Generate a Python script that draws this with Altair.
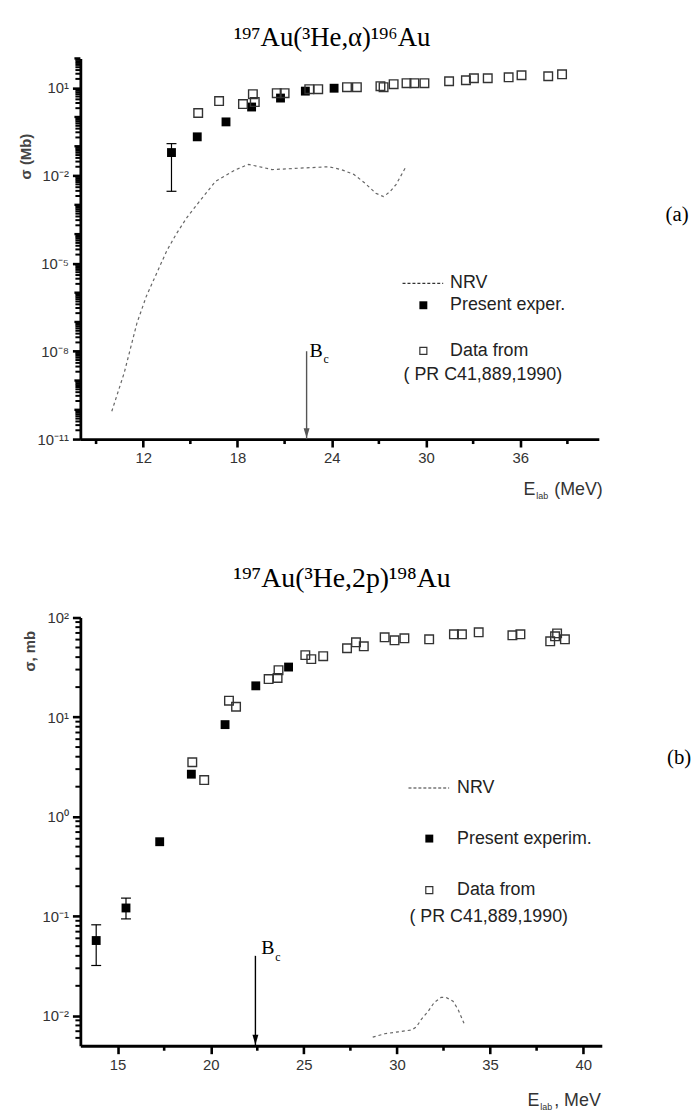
import altair as alt
import pandas as pd

# ---------------- panel (a): 197Au(3He,alpha)196Au ----------------
a_exp_e = [13.8, 15.44, 17.27, 18.9, 20.74, 22.32, 24.15]
a_exp_s = [0.061, 0.21, 0.68, 2.19, 4.43, 7.64, 9.6]
a_err_e = [13.8]
a_err_lo = [0.0029]
a_err_hi = [0.123]
a_lit_e = [15.5, 16.83, 18.35, 18.98, 19.1, 20.5, 21.0, 22.57, 23.14, 24.97, 25.6,
           27.1, 27.3, 27.94, 28.76, 29.26, 29.9, 31.47, 32.54, 33.05, 33.93, 35.26,
           36.08, 37.78, 38.66]
a_lit_s = [1.37, 3.5, 2.77, 6.0, 3.24, 6.5, 6.5, 8.9, 8.9, 10.4, 10.4,
           11.3, 10.4, 13.2, 14.3, 14.3, 14.3, 16.6, 18.0, 21.0, 21.0, 22.7,
           26.6, 24.6, 28.7]
a_nrv_e = [10.0, 10.8, 11.6, 12.2, 13.5, 14.1, 14.8, 15.6, 16.6, 17.9, 18.7, 19.4,
           20.2, 21.2, 22.0, 23.0, 23.8, 24.6, 25.4, 26.1, 26.8, 27.3, 27.7, 28.1, 28.7]
a_nrv_s = [8.9e-11, 1.9e-9, 9.1e-8, 7.6e-7, 2.7e-5, 1.0e-4, 3.8e-4, 1.35e-3, 6.3e-3,
           1.6e-2, 2.4e-2, 2.0e-2, 1.6e-2, 1.7e-2, 1.8e-2, 1.9e-2, 2.0e-2, 1.6e-2,
           1.1e-2, 5.6e-3, 2.5e-3, 1.9e-3, 2.8e-3, 5.0e-3, 1.9e-2]
a_bc_e = [22.4]
a_bc_top = [1e-8]
a_xticks = [12, 18, 24, 30, 36]
a_xminor = [9, 15, 21, 27, 33, 39]
a_yexps = [-11, -8, -5, -2, 1]

# ---------------- panel (b): 197Au(3He,2p)198Au ----------------
b_exp_e = [13.85, 15.45, 17.26, 18.96, 20.77, 22.42, 24.18]
b_exp_s = [0.057, 0.121, 0.56, 2.67, 8.4, 20.6, 31.8]
b_err_e = [13.85, 15.45]
b_err_lo = [0.032, 0.094]
b_err_hi = [0.082, 0.152]
b_lit_e = [19.01, 19.65, 20.98, 21.36, 23.11, 23.59, 23.64, 25.08, 25.4, 26.04, 27.32,
           27.8, 28.22, 29.34, 29.87, 30.4, 31.73, 33.06, 33.49, 34.39, 36.2, 36.63,
           38.23, 38.49, 38.6, 39.02]
b_lit_s = [3.52, 2.33, 14.6, 12.7, 24.1, 24.7, 29.6, 41.9, 38.2, 40.9, 49.1,
           56.4, 51.4, 63.2, 59.0, 61.8, 60.4, 67.8, 67.8, 71.0, 66.2, 67.8,
           57.7, 64.7, 69.3, 60.4]
b_nrv_e = [28.7, 29.34, 30.08, 30.78, 31.04, 31.31, 31.68, 32.0, 32.37, 32.64, 33.01, 33.28, 33.6]
b_nrv_s = [6.1e-3, 6.6e-3, 6.9e-3, 7.2e-3, 7.7e-3, 9.2e-3, 1.11e-2, 1.36e-2, 1.53e-2,
           1.53e-2, 1.40e-2, 1.16e-2, 8.4e-3]
b_bc_e = [22.4]
b_bc_top = [0.04]
b_xticks = [15, 20, 25, 30, 35, 40]
b_xminor = [17.5, 22.5, 27.5, 32.5, 37.5]
b_yexps = [-2, -1, 0, 1, 2]

SUP = str.maketrans('-0123456789', '⁻⁰¹²³⁴⁵⁶⁷⁸⁹')
SANS = 'Liberation Sans'
SERIF = 'Liberation Serif'
one = pd.DataFrame({'d': [0]})


def ylabel_expr(exps):
    s = ''
    for e in exps:
        s += f"abs(log(datum.value)/LN10 - ({e})) < 0.1 ? '10{str(e).translate(SUP)}' : "
    return s + "''"


AX = dict(grid=False, title=None, domainColor='black', domainWidth=2.8,
          tickColor='black', tickWidth=2.6, tickSize=8, labelFont=SANS,
          labelFontSize=15, labelColor='#333', labelOverlap=False, labelFlush=False,
          labelPadding=4)


def txt(s, x, y, size=15, font=SANS, align='left', baseline='alphabetic',
        color='black', angle=0, weight='normal'):
    return alt.Chart(one).mark_text(
        text=s, font=font, fontSize=size, align=align, baseline=baseline,
        color=color, angle=angle, fontWeight=weight
    ).encode(x=alt.value(x), y=alt.value(y))


def panel(W, H, xdom, ydom, xticks, xminor, yexps, ymid, yminor,
          exp_e, exp_s, err_e, err_lo, err_hi, lit_e, lit_s, nrv_e, nrv_s,
          bc_e, bc_top, bc_color, extra):
    xs = alt.Scale(domain=xdom, nice=False, zero=False)
    ys = alt.Scale(type='log', domain=ydom, nice=False)
    xax = alt.Axis(values=xticks, format='d', **AX)
    yax = alt.Axis(values=[10.0 ** e for e in yexps], labelExpr=ylabel_expr(yexps), **AX)

    def X(f):
        return alt.X(f, type='quantitative', scale=xs, axis=xax)

    def Y(f):
        return alt.Y(f, type='quantitative', scale=ys, axis=yax)

    exp_df = pd.DataFrame({'e': exp_e, 's': exp_s})
    lit_df = pd.DataFrame({'e': lit_e, 's': lit_s})
    nrv_df = pd.DataFrame({'e': nrv_e, 's': nrv_s})
    err_df = pd.DataFrame({'e': err_e, 'lo': err_lo, 'hi': err_hi})
    bc_df = pd.DataFrame({'e': bc_e, 's': bc_top, 'bot': [ydom[0]] * len(bc_e)})

    layers = [
        alt.Chart(exp_df).mark_point(shape='square', filled=True, size=80,
                                     color='black', opacity=1).encode(x=X('e'), y=Y('s')),
        alt.Chart(pd.DataFrame({'s': ymid})).mark_rule(color='black', strokeWidth=2.4).encode(
            y=Y('s'), x=alt.value(0), x2=alt.value(-6)),
        alt.Chart(pd.DataFrame({'s': yminor})).mark_rule(color='black', strokeWidth=2).encode(
            y=Y('s'), x=alt.value(0), x2=alt.value(-5)),
        alt.Chart(pd.DataFrame({'e': xminor})).mark_rule(color='black', strokeWidth=2.6).encode(
            x=X('e'), y=alt.value(H), y2=alt.value(H + 5)),
        alt.Chart(nrv_df).mark_line(color='#666', strokeWidth=1.2, strokeDash=[3, 3]).encode(
            x=X('e'), y=Y('s')),
        alt.Chart(err_df).mark_rule(color='black', strokeWidth=1.2).encode(
            x=X('e'), y=Y('lo'), y2=alt.Y2('hi')),
        alt.Chart(err_df).mark_tick(orient='horizontal', size=10, thickness=1.2,
                                    color='black', opacity=1).encode(x=X('e'), y=Y('lo')),
        alt.Chart(err_df).mark_tick(orient='horizontal', size=10, thickness=1.2,
                                    color='black', opacity=1).encode(x=X('e'), y=Y('hi')),
        alt.Chart(lit_df).mark_point(shape='square', filled=False, size=75, strokeWidth=1.4,
                                     color='#333', opacity=1).encode(x=X('e'), y=Y('s')),
        alt.Chart(bc_df).mark_rule(color=bc_color, strokeWidth=1.4).encode(
            x=X('e'), y=Y('s'), y2=alt.Y2('bot')),
        alt.Chart(bc_df).mark_point(shape='M-1.2,-4L1.2,-4L0,0Z', filled=True, size=25,
                                    color=bc_color, opacity=1).encode(
            x=X('e'), y=alt.value(H - 1)),
    ]
    for spec in extra:
        kind = spec[0]
        if kind == 'bc':
            _, s, dx, y, size = spec
            layers.append(alt.Chart(bc_df).mark_text(
                text=s, dx=dx, font=SERIF, fontSize=size, align='left', color='black'
            ).encode(x=X('e'), y=alt.value(y)))
        else:
            layers.append(spec[1])
    return alt.layer(*layers).properties(width=W, height=H)


# -------- panel (a) --------
HA, WA = 384, 523
a_extra = [
    ('bc', 'B', 3, 295, 20),
    ('bc', 'c', 17, 303, 12),
    ('t', txt('¹⁹⁷Au(³He,α)¹⁹⁶Au', 254, -13, size=27, font=SERIF, align='center')),
    ('t', txt('σ (Mb)', -55, 99, size=15, align='center', baseline='middle',
              color='#444', angle=270, weight='bold')),
    ('t', txt('E', 447, 440, size=18, color='#333')),
    ('t', txt('lab', 460, 444, size=9, color='#333')),
    ('t', txt('(MeV)', 478, 440, size=18, color='#333')),
    ('t', alt.Chart(one).mark_rule(color='#333', strokeWidth=1.2, strokeDash=[3, 2]).encode(
        x=alt.value(325), x2=alt.value(366), y=alt.value(227))),
    ('t', txt('NRV', 373, 227, size=18, baseline='middle', color='#222')),
    ('t', alt.Chart(one).mark_point(shape='square', filled=True, size=64, color='black',
                                    opacity=1).encode(x=alt.value(346), y=alt.value(249))),
    ('t', txt('Present exper.', 373, 249, size=18, baseline='middle', color='#222')),
    ('t', alt.Chart(one).mark_point(shape='square', filled=False, size=50, strokeWidth=1.2,
                                    color='#333', opacity=1).encode(x=alt.value(346), y=alt.value(295))),
    ('t', txt('Data from', 373, 295, size=18, baseline='middle', color='#222')),
    ('t', txt('( PR C41,889,1990)', 326, 319, size=18, baseline='middle', color='#222')),
    ('t', txt('(a)', 602, 158, size=21, font=SERIF, align='center', baseline='middle')),
    ('t', alt.Chart(one).mark_point(filled=True, size=1, opacity=0).encode(
        x=alt.value(-72), y=alt.value(-45))),
    ('t', alt.Chart(one).mark_point(filled=True, size=1, opacity=0).encode(
        x=alt.value(-72), y=alt.value(454))),
]
a_ymid = [10.0 ** k for k in range(-10, 3) if k not in a_yexps]
a_yminor = [m * 10.0 ** k for k in range(-11, 2) for m in range(2, 10)]
pa = panel(WA, HA, [8, 41], [1e-11, 100], a_xticks, a_xminor, a_yexps, a_ymid, a_yminor,
           a_exp_e, a_exp_s, a_err_e, a_err_lo, a_err_hi, a_lit_e, a_lit_s, a_nrv_e, a_nrv_s,
           a_bc_e, a_bc_top, '#555', a_extra)

# -------- panel (b) --------
HB, WB = 432, 526
b_extra = [
    ('bc', 'B', 6, 333, 20),
    ('bc', 'c', 20, 342, 12),
    ('t', txt('¹⁹⁷Au(³He,2p)¹⁹⁸Au', 264, -31, size=28, font=SERIF, align='center')),
    ('t', txt('σ, mb', -51, 34, size=15, align='center', baseline='middle',
              color='#444', angle=270, weight='bold')),
    ('t', txt('E', 451, 493, size=18, color='#333')),
    ('t', txt('lab', 464, 497, size=9, color='#333')),
    ('t', txt(', MeV', 478, 493, size=18, color='#333')),
    ('t', alt.Chart(one).mark_rule(color='#333', strokeWidth=1.2, strokeDash=[3, 2]).encode(
        x=alt.value(331), x2=alt.value(372), y=alt.value(172))),
    ('t', txt('NRV', 380, 172, size=18, baseline='middle', color='#222')),
    ('t', alt.Chart(one).mark_point(shape='square', filled=True, size=64, color='black',
                                    opacity=1).encode(x=alt.value(352), y=alt.value(223))),
    ('t', txt('Present  experim.', 380, 223, size=18, baseline='middle', color='#222')),
    ('t', alt.Chart(one).mark_point(shape='square', filled=False, size=50, strokeWidth=1.2,
                                    color='#333', opacity=1).encode(x=alt.value(352), y=alt.value(275))),
    ('t', txt('Data  from', 380, 275, size=18, baseline='middle', color='#222')),
    ('t', txt('( PR C41,889,1990)', 332, 302, size=18, baseline='middle', color='#222')),
    ('t', txt('(b)', 604, 142, size=21, font=SERIF, align='center', baseline='middle')),
    ('t', alt.Chart(one).mark_point(filled=True, size=1, opacity=0).encode(
        x=alt.value(-68), y=alt.value(-108))),
]
b_ymid = []
b_yminor = [m * 10.0 ** k for k in range(-3, 2) for m in range(2, 10)
            if 0.0051 < m * 10.0 ** k < 99]
pb = panel(WB, HB, [13, 41], [0.005, 100], b_xticks, b_xminor, b_yexps, b_ymid, b_yminor,
           b_exp_e, b_exp_s, b_err_e, b_err_lo, b_err_hi, b_lit_e, b_lit_s, b_nrv_e, b_nrv_s,
           b_bc_e, b_bc_top, 'black', b_extra)

chart = alt.vconcat(pa, pb, spacing=0).properties(padding=0).configure_view(stroke=None)
chart.save("out.html", embed_options={"renderer": "svg", "actions": False})
